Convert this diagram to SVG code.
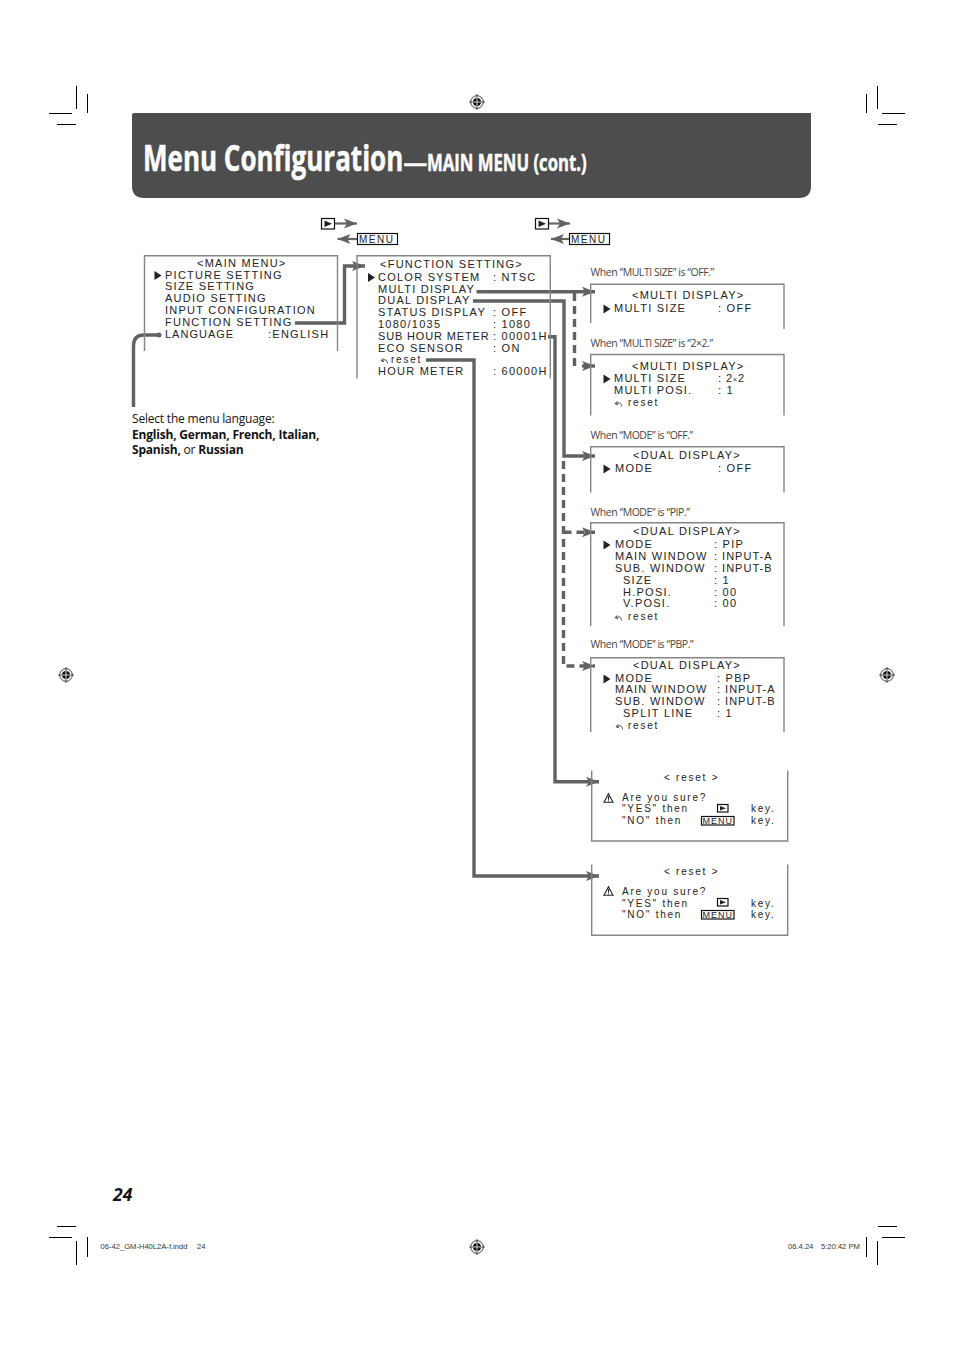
<svg xmlns="http://www.w3.org/2000/svg" width="954" height="1351" viewBox="0 0 954 1351">
<style>
text{font-family:"Liberation Sans",Arial,sans-serif;fill:#222;opacity:.99}
.m{font-size:11px;letter-spacing:1.25px}
.r{font-size:10px;letter-spacing:1.75px}
.cap{font-family:"Open Sans",sans-serif;font-size:10.5px;letter-spacing:-.45px;fill:#444}
.note{font-family:"Open Sans",sans-serif;font-size:12px;letter-spacing:-.2px;fill:#111}
.b{font-weight:700}
.box{fill:none;stroke:#858585;stroke-width:1.4}
.c{fill:none;stroke:#626262;stroke-width:3.400}
.t{fill:none;stroke:#666;stroke-width:2.200}
.d{fill:none;stroke:#626262;stroke-width:3.400;stroke-dasharray:8 5}
.crop{stroke:#000;stroke-width:1;fill:none}
.ft{font-size:7.6px;fill:#333}
.key{fill:#fff;stroke:#111;stroke-width:1.2}
.title{font-family:"Open Sans",sans-serif;font-weight:700;fill:#fff;stroke:#fff;stroke-width:.5}
</style>
<defs>
<marker id="ah" markerUnits="userSpaceOnUse" markerWidth="14" markerHeight="11" refX="13" refY="5.500" orient="auto"><path d="M0 .5L13 5.500L0 10.500L3 5.500Z" fill="#626262"/></marker>
<symbol id="tri" viewBox="0 0 7 9" width="7" height="9" overflow="visible"><path d="M0 0L7 4.500L0 9Z" fill="#222"/></symbol>
<symbol id="undo" viewBox="0 0 8 6" width="8" height="6" overflow="visible"><path d="M7.500 5.500C7.500 2 5 1 2 2.500M3.200 .4L1 2.800L4 3.600" fill="none" stroke="#333" stroke-width=".9"/></symbol>
<symbol id="warn" viewBox="0 0 10 10" width="10" height="10" overflow="visible"><path d="M5 .7L9.500 9.300H.5Z" fill="#fff" stroke="#222" stroke-width="1.100"/><path d="M5 3V6.800M5 7.500V8.600" stroke="#222" stroke-width="1.100"/></symbol>
<symbol id="reg" viewBox="-11 -11 22 22" width="22" height="22" overflow="visible"><circle r="6.300" fill="none" stroke="#111" stroke-width=".8"/><circle r="4" fill="#111"/><path d="M-8 0H8M0-8V8" stroke="#111" stroke-width=".7"/><path d="M-4 0H4M0-4V4" stroke="#fff" stroke-width=".8"/></symbol>
</defs>

<g id="crop-marks">
<path class="crop" d="M49 113.500H72M57 124.500H76M76.500 86V109M87.500 94V113"/>
<path class="crop" d="M882 113.500H905M878 124.500H897M877.500 86V109M866.500 94V113"/>
<path class="crop" d="M57 1226.500H76M49 1237.500H72M76.500 1241V1265M87.500 1237V1257"/>
<path class="crop" d="M878 1226.500H897M882 1237.500H905M877.500 1241V1265M866.500 1237V1257"/>
<use href="#reg" x="466" y="91"/><use href="#reg" x="55" y="664"/><use href="#reg" x="876" y="664"/><use href="#reg" x="466" y="1236"/>
</g>

<g id="header">
<path d="M134 113H811V186Q811 198 799 198H144Q132 198 132 186V115Q132 113 134 113Z" fill="#4d4d4d"/>
<text class="title" transform="translate(143 171) scale(.743 1)" style="font-size:35px">Menu Configuration</text>
<text class="title" transform="translate(403.500 171) scale(1.080 1)" style="font-size:22px">—</text>
<text class="title" transform="translate(427 171) scale(.743 1)" style="font-size:22.500px">MAIN MENU (cont.)</text>
</g>

<g id="key-legend-1">
<rect class="key" x="321.500" y="218.500" width="13" height="10.500"/><path d="M324.500 220.500L332 223.700L324.500 227Z" fill="#222"/>
<rect class="key" x="357.500" y="233.500" width="40" height="11"/><text x="359" y="243" class="r" style="letter-spacing:1.500px">MENU</text>
</g>
<g id="key-legend-2">
<rect class="key" x="535.500" y="218.500" width="13" height="10.500"/><path d="M538.500 220.500L546 223.700L538.500 227Z" fill="#222"/>
<rect class="key" x="569.500" y="233.500" width="40" height="11"/><text x="571" y="243" class="r" style="letter-spacing:1.500px">MENU</text>
</g>

<g id="connectors">
<path class="t" d="M335 223.500H357" marker-end="url(#ah)"/>
<path class="t" d="M357 239H337.500" marker-end="url(#ah)"/>
<path class="t" d="M549 223.500H570" marker-end="url(#ah)"/>
<path class="t" d="M569 239H551" marker-end="url(#ah)"/>
<path class="c" d="M295 323H344.500V266H365" marker-end="url(#ah)"/>
<path class="c" d="M160 335H144Q133.500 335 133.500 346V407"/>
<circle cx="159" cy="335" r="2.500" fill="#626262"/>
<path class="c" d="M476.500 291.700H595" marker-end="url(#ah)"/>
<path class="c" d="M473 301H564V456H595" marker-end="url(#ah)"/>
<path class="c" d="M548 336.700H555V781.700H599" marker-end="url(#ah)"/>
<path class="c" d="M426 360H474V876H599" marker-end="url(#ah)"/>
<path class="d" d="M574.500 293V366"/>
<path class="c" d="M582 366H595" marker-end="url(#ah)"/>
<path class="d" d="M563.500 461V666H595" marker-end="url(#ah)"/>
<path class="d" d="M563.500 532.300H595" marker-end="url(#ah)"/>
</g>

<g id="main-menu">
<path class="box" d="M144.500 351V255.700H337.500V351"/>
<text class="m" x="197" y="267">&lt;MAIN MENU&gt;</text>
<use href="#tri" x="154.500" y="271"/>
<text class="m" x="165" y="279">PICTURE SETTING</text>
<text class="m" x="165" y="290">SIZE SETTING</text>
<text class="m" x="165" y="302">AUDIO SETTING</text>
<text class="m" x="165" y="314">INPUT CONFIGURATION</text>
<text class="m" x="165" y="326">FUNCTION SETTING</text>
<text class="m" x="165" y="338" style="letter-spacing:1px">LANGUAGE</text>
<text class="m" x="268" y="338">:ENGLISH</text>
</g>

<g id="function-setting">
<path class="box" d="M357 378.500V255.700H550.300V378.500"/>
<text class="m" x="380" y="267.500">&lt;FUNCTION SETTING&gt;</text>
<use href="#tri" x="368" y="273"/>
<text class="m" x="378" y="281">COLOR SYSTEM</text><text class="m" x="493" y="281">: NTSC</text>
<text class="m" x="378" y="292.500">MULTI DISPLAY</text>
<text class="m" x="378" y="304">DUAL DISPLAY</text>
<text class="m" x="378" y="316">STATUS DISPLAY</text><text class="m" x="493" y="316">: OFF</text>
<text class="m" x="378" y="328">1080/1035</text><text class="m" x="493" y="328">: 1080</text>
<text class="m" x="378" y="340" style="letter-spacing:.85px">SUB HOUR METER</text><text class="m" x="493" y="340">: 00001H</text>
<text class="m" x="378" y="351.500">ECO SENSOR</text><text class="m" x="493" y="351.500">: ON</text>
<use href="#undo" x="380" y="358"/><text class="r" x="391" y="363">reset</text>
<text class="m" x="378" y="375">HOUR METER</text><text class="m" x="493" y="375">: 60000H</text>
</g>

<g id="note-language">
<text class="note" x="132" y="423">Select the menu language:</text>
<text class="note b" x="132" y="439">English, German, French, Italian,</text>
<text class="note" x="132" y="454"><tspan class="b">Spanish,</tspan> or <tspan class="b">Russian</tspan></text>
</g>

<g id="multi-display-off">
<text class="cap" x="590.500" y="276">When “MULTI SIZE” is “OFF.”</text>
<path class="box" d="M590.700 323V284.300H784V329"/>
<text class="m" x="632" y="299">&lt;MULTI DISPLAY&gt;</text>
<use href="#tri" x="603.500" y="304.500"/>
<text class="m" x="614" y="312">MULTI SIZE</text><text class="m" x="718" y="312">: OFF</text>
</g>

<g id="multi-display-2x2">
<text class="cap" x="590.500" y="347">When “MULTI SIZE” is “2×2.”</text>
<path class="box" d="M590.700 415.500V354.500H784V415.500"/>
<text class="m" x="632" y="370">&lt;MULTI DISPLAY&gt;</text>
<use href="#tri" x="603.500" y="374.500"/>
<text class="m" x="614" y="382">MULTI SIZE</text><text class="m" x="718" y="382" style="letter-spacing:.9px">: 2<tspan style="font-size:7px">×</tspan>2</text>
<text class="m" x="614" y="394">MULTI POSI.</text><text class="m" x="718" y="394">: 1</text>
<use href="#undo" x="614" y="401"/><text class="r" x="628" y="406">reset</text>
</g>

<g id="dual-display-off">
<text class="cap" x="590.500" y="439">When “MODE” is “OFF.”</text>
<path class="box" d="M590.700 492.500V446.700H784V492.500"/>
<text class="m" x="633" y="459">&lt;DUAL DISPLAY&gt;</text>
<use href="#tri" x="603.500" y="464.500"/>
<text class="m" x="615" y="472">MODE</text><text class="m" x="718" y="472">: OFF</text>
</g>

<g id="dual-display-pip">
<text class="cap" x="590.500" y="516">When “MODE” is “PIP.”</text>
<path class="box" d="M590.700 626V522.700H784V626"/>
<text class="m" x="633" y="535">&lt;DUAL DISPLAY&gt;</text>
<use href="#tri" x="603.500" y="540.500"/>
<text class="m" x="615" y="548">MODE</text><text class="m" x="714" y="548">: PIP</text>
<text class="m" x="615" y="560">MAIN WINDOW</text><text class="m" x="714" y="560" style="letter-spacing:1px">: INPUT-A</text>
<text class="m" x="615" y="572">SUB. WINDOW</text><text class="m" x="714" y="572" style="letter-spacing:1px">: INPUT-B</text>
<text class="m" x="623" y="584">SIZE</text><text class="m" x="714" y="584">: 1</text>
<text class="m" x="623" y="595.500">H.POSI.</text><text class="m" x="714" y="595.500">: 00</text>
<text class="m" x="623" y="607">V.POSI.</text><text class="m" x="714" y="607">: 00</text>
<use href="#undo" x="614" y="615"/><text class="r" x="628" y="620">reset</text>
</g>

<g id="dual-display-pbp">
<text class="cap" x="590.500" y="648">When “MODE” is “PBP.”</text>
<path class="box" d="M590.700 732V657.700H784V732"/>
<text class="m" x="633" y="669">&lt;DUAL DISPLAY&gt;</text>
<use href="#tri" x="603.500" y="674.500"/>
<text class="m" x="615" y="682">MODE</text><text class="m" x="717" y="682">: PBP</text>
<text class="m" x="615" y="693">MAIN WINDOW</text><text class="m" x="717" y="693" style="letter-spacing:1px">: INPUT-A</text>
<text class="m" x="615" y="705">SUB. WINDOW</text><text class="m" x="717" y="705" style="letter-spacing:1px">: INPUT-B</text>
<text class="m" x="623" y="717">SPLIT LINE</text><text class="m" x="717" y="717">: 1</text>
<use href="#undo" x="615" y="724"/><text class="r" x="628" y="729">reset</text>
</g>

<g id="reset-1">
<path class="box" d="M591.700 770.500V841H787.700V770.500"/>
<text class="r" x="664" y="781">&lt; reset &gt;</text>
<use href="#warn" x="603.500" y="793"/>
<text class="r" x="622" y="801">Are you sure?</text>
<text class="r" x="622" y="812">"YES" then</text><text class="r" x="751" y="812">key.</text>
<text class="r" x="622" y="824">"NO" then</text><text class="r" x="751" y="824">key.</text>
<rect class="key" x="717.500" y="804.500" width="10.500" height="7.500"/><path d="M720 806L726 808.200L720 810.500Z" fill="#222"/>
<rect class="key" x="701.500" y="816.500" width="32.500" height="8.500"/><text x="702.500" y="824" style="font-size:9px;letter-spacing:1px">MENU</text>
</g>

<g id="reset-2">
<path class="box" d="M591.700 864.500V935.300H787.700V864.500"/>
<text class="r" x="664" y="875">&lt; reset &gt;</text>
<use href="#warn" x="603.500" y="886"/>
<text class="r" x="622" y="895">Are you sure?</text>
<text class="r" x="622" y="907">"YES" then</text><text class="r" x="751" y="907">key.</text>
<text class="r" x="622" y="918">"NO" then</text><text class="r" x="751" y="918">key.</text>
<rect class="key" x="717.500" y="898.500" width="10.500" height="7.500"/><path d="M720 900L726 902.200L720 904.500Z" fill="#222"/>
<rect class="key" x="701.500" y="910.500" width="32.500" height="8.500"/><text x="702.500" y="918" style="font-size:9px;letter-spacing:1px">MENU</text>
</g>

<g id="footer">
<text x="113" y="1201" style="font-family:'Open Sans',sans-serif;font-weight:700;font-style:italic;font-size:17.500px;fill:#111">24</text>
<text class="ft" x="100.500" y="1249">06-42_GM-H40L2A-f.indd</text><text class="ft" x="197" y="1249">24</text>
<text class="ft" x="788" y="1249">06.4.24</text><text class="ft" x="821" y="1249">5:20:42 PM</text>
</g>
</svg>
